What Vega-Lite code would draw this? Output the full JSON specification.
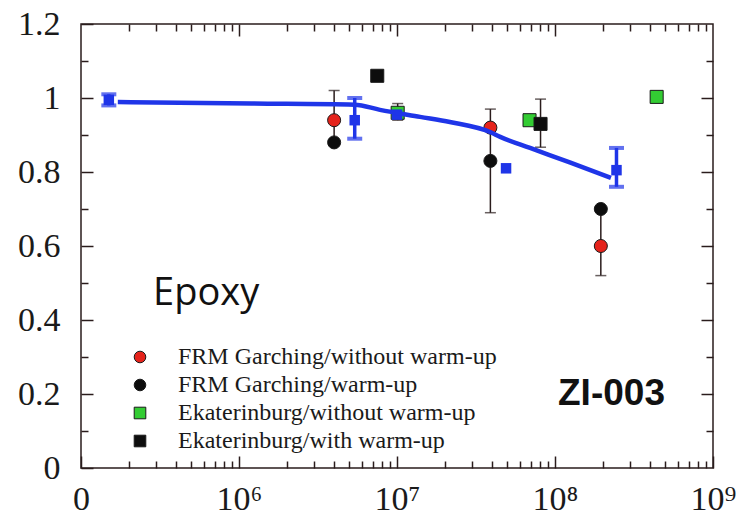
{
  "$schema": "https://vega.github.io/schema/vega-lite/v6.json",
  "width": 632,
  "height": 444,
  "autosize": "none",
  "padding": {"left": 81, "top": 24, "right": 25, "bottom": 51},
  "background": "white",
  "config": {
    "view": {"stroke": "#2a1c1c", "strokeWidth": 1.5},
    "axis": {"domain": false, "grid": false, "tickColor": "#2a1c1c", "tickWidth": 1.5, "labelColor": "#1a1a1a", "labelFont": "Liberation Serif", "title": null, "labelOverlap": false, "labelBound": false, "labelFlush": false}
  },
  "datasets": {
    "curve": [
      {"x": 171000, "y": 0.989},
      {"x": 1200000, "y": 0.985},
      {"x": 5400000, "y": 0.982},
      {"x": 7800000, "y": 0.968},
      {"x": 14000000, "y": 0.949},
      {"x": 21600000, "y": 0.935},
      {"x": 38800000, "y": 0.908},
      {"x": 45000000, "y": 0.895},
      {"x": 69500000, "y": 0.865},
      {"x": 124000000, "y": 0.826},
      {"x": 226000000, "y": 0.784}
    ],
    "blue": [
      {"x": 150000, "y": 0.995, "lo": 0.98, "hi": 1.01},
      {"x": 5400000, "y": 0.94, "lo": 0.89, "hi": 1.0},
      {"x": 10000000, "y": 0.955, "lo": null, "hi": null},
      {"x": 49000000, "y": 0.81, "lo": null, "hi": null},
      {"x": 245000000, "y": 0.805, "lo": 0.76, "hi": 0.865}
    ],
    "pts": [
      {"series": "FRM Garching/without warm-up", "x": 4000000, "y": 0.94, "lo": 0.88, "hi": 1.02},
      {"series": "FRM Garching/without warm-up", "x": 39000000, "y": 0.92, "lo": null, "hi": null},
      {"series": "FRM Garching/without warm-up", "x": 195000000, "y": 0.6, "lo": 0.52, "hi": 0.7},
      {"series": "FRM Garching/warm-up", "x": 4000000, "y": 0.88, "lo": null, "hi": null},
      {"series": "FRM Garching/warm-up", "x": 39000000, "y": 0.83, "lo": 0.69, "hi": 0.97},
      {"series": "FRM Garching/warm-up", "x": 195000000, "y": 0.7, "lo": null, "hi": null},
      {"series": "Ekaterinburg/without warm-up", "x": 10100000, "y": 0.96, "lo": 0.94, "hi": 0.985},
      {"series": "Ekaterinburg/without warm-up", "x": 69000000, "y": 0.94, "lo": null, "hi": null},
      {"series": "Ekaterinburg/without warm-up", "x": 440000000, "y": 1.003, "lo": null, "hi": null},
      {"series": "Ekaterinburg/with warm-up", "x": 7500000, "y": 1.06, "lo": null, "hi": null},
      {"series": "Ekaterinburg/with warm-up", "x": 81000000, "y": 0.93, "lo": 0.867, "hi": 0.997}
    ]
  },
  "layer": [
    {
      "data": {"name": "pts"},
      "transform": [{"filter": "datum.lo != null"}],
      "mark": {"type": "rule", "color": "#2a1c1c", "strokeWidth": 1.5},
      "encoding": {
        "x": {"field": "x", "type": "quantitative", "scale": {"type": "log", "domain": [100000, 1000000000], "nice": false},
          "axis": {
            "orient": "bottom",
            "values": [100000, 200000, 300000, 400000, 500000, 600000, 700000, 800000, 900000, 1000000, 2000000, 3000000, 4000000, 5000000, 6000000, 7000000, 8000000, 9000000, 10000000, 20000000, 30000000, 40000000, 50000000, 60000000, 70000000, 80000000, 90000000, 100000000, 200000000, 300000000, 400000000, 500000000, 600000000, 700000000, 800000000, 900000000, 1000000000],
            "labelExpr": "datum.value < 150000 ? '0' : (abs(log(datum.value)/LN10 - round(log(datum.value)/LN10)) < 0.001 ? '10' + ['','','','','','','⁶','⁷','⁸','⁹'][round(log(datum.value)/LN10)] : '')",
            "tickSize": {"condition": {"test": "abs(log(datum.value)/LN10 - round(log(datum.value)/LN10)) < 0.001", "value": -12}, "value": -7},
            "labelFontSize": 34,
            "labelPadding": 26
          }},
        "y": {"field": "lo", "type": "quantitative", "scale": {"domain": [0, 1.2], "nice": false, "zero": false},
          "axis": {
            "orient": "left",
            "values": [0, 0.1, 0.2, 0.3, 0.4, 0.5, 0.6, 0.7, 0.8, 0.9, 1, 1.1, 1.2],
            "labelExpr": "round(datum.value*10)%2==0 ? format(datum.value,'~g') : ''",
            "tickSize": {"condition": {"test": "round(datum.value*10)%2==0", "value": -12}, "value": -7},
            "labelFontSize": 34,
            "labelPadding": 33
          }},
        "y2": {"field": "hi"}
      }
    },
    {
      "data": {"name": "pts"},
      "transform": [{"filter": "datum.lo != null"}],
      "mark": {"type": "tick", "orient": "horizontal", "color": "#2a1c1c", "thickness": 1.5, "size": 11},
      "encoding": {
        "x": {"field": "x", "type": "quantitative", "axis": null},
        "y": {"field": "hi", "type": "quantitative", "axis": null}
      }
    },
    {
      "data": {"name": "pts"},
      "transform": [{"filter": "datum.lo != null"}],
      "mark": {"type": "tick", "orient": "horizontal", "color": "#2a1c1c", "thickness": 1.5, "size": 11},
      "encoding": {
        "x": {"field": "x", "type": "quantitative", "axis": null},
        "y": {"field": "lo", "type": "quantitative", "axis": null}
      }
    },
    {
      "data": {"name": "pts"},
      "mark": {"type": "point", "filled": true, "stroke": "#1a1a1a", "strokeWidth": 1, "opacity": 1, "size": 170},
      "encoding": {
        "x": {"field": "x", "type": "quantitative", "axis": null},
        "y": {"field": "y", "type": "quantitative", "axis": null},
        "color": {"field": "series", "type": "nominal",
          "scale": {"domain": ["FRM Garching/without warm-up", "FRM Garching/warm-up", "Ekaterinburg/without warm-up", "Ekaterinburg/with warm-up"], "range": ["#e5231b", "#0d0d0d", "#33cc33", "#0d0d0d"]},
          "legend": {"orient": "none", "legendX": 47, "legendY": 321, "title": null, "labelFont": "Liberation Serif", "labelFontSize": 24, "labelColor": "#1a1a1a", "labelOffset": 26, "labelLimit": 0, "symbolSize": 135, "rowPadding": 4, "padding": 0, "symbolStrokeColor": "#1a1a1a", "symbolStrokeWidth": 1}},
        "shape": {"field": "series", "type": "nominal",
          "scale": {"domain": ["FRM Garching/without warm-up", "FRM Garching/warm-up", "Ekaterinburg/without warm-up", "Ekaterinburg/with warm-up"], "range": ["circle", "circle", "square", "square"]}}
      }
    },
    {
      "data": {"name": "blue"},
      "transform": [{"filter": "datum.lo != null"}],
      "mark": {"type": "rule", "color": "#1f35e8", "strokeWidth": 3.5},
      "encoding": {
        "x": {"field": "x", "type": "quantitative", "axis": null},
        "y": {"field": "lo", "type": "quantitative", "axis": null},
        "y2": {"field": "hi"}
      }
    },
    {
      "data": {"name": "blue"},
      "transform": [{"filter": "datum.lo != null"}],
      "mark": {"type": "tick", "orient": "horizontal", "color": "#1f35e8", "thickness": 4, "size": 15},
      "encoding": {
        "x": {"field": "x", "type": "quantitative", "axis": null},
        "y": {"field": "hi", "type": "quantitative", "axis": null}
      }
    },
    {
      "data": {"name": "blue"},
      "transform": [{"filter": "datum.lo != null"}],
      "mark": {"type": "tick", "orient": "horizontal", "color": "#1f35e8", "thickness": 4, "size": 15},
      "encoding": {
        "x": {"field": "x", "type": "quantitative", "axis": null},
        "y": {"field": "lo", "type": "quantitative", "axis": null}
      }
    },
    {
      "data": {"name": "blue"},
      "mark": {"type": "square", "color": "#1f35e8", "opacity": 1, "size": 110},
      "encoding": {
        "x": {"field": "x", "type": "quantitative", "axis": null},
        "y": {"field": "y", "type": "quantitative", "axis": null}
      }
    },
    {
      "data": {"name": "curve"},
      "mark": {"type": "line", "color": "#1f35e8", "strokeWidth": 4.5, "interpolate": "monotone"},
      "encoding": {
        "x": {"field": "x", "type": "quantitative", "axis": null},
        "y": {"field": "y", "type": "quantitative", "axis": null}
      }
    },
    {
      "data": {"values": [{}]},
      "mark": {"type": "text", "text": "Epoxy", "font": "Open Sans", "fontSize": 38, "align": "left", "baseline": "alphabetic", "color": "#111111"},
      "encoding": {
        "x": {"datum": 286000, "type": "quantitative", "axis": null},
        "y": {"datum": 0.44, "type": "quantitative", "axis": null}
      }
    },
    {
      "data": {"values": [{}]},
      "mark": {"type": "text", "text": "ZI-003", "font": "Liberation Sans", "fontWeight": "bold", "fontSize": 37, "align": "left", "baseline": "alphabetic", "color": "#111111"},
      "encoding": {
        "x": {"datum": 104500000, "type": "quantitative", "axis": null},
        "y": {"datum": 0.17, "type": "quantitative", "axis": null}
      }
    },
    {
      "data": {"name": "curve"},
      "mark": {"type": "point", "opacity": 0},
      "encoding": {
        "x": {"field": "x", "type": "quantitative",
          "axis": {
            "orient": "top", "labels": false,
            "values": [200000, 300000, 400000, 500000, 600000, 700000, 800000, 900000, 1000000, 2000000, 3000000, 4000000, 5000000, 6000000, 7000000, 8000000, 9000000, 10000000, 20000000, 30000000, 40000000, 50000000, 60000000, 70000000, 80000000, 90000000, 100000000, 200000000, 300000000, 400000000, 500000000, 600000000, 700000000, 800000000, 900000000],
            "tickSize": {"condition": {"test": "abs(log(datum.value)/LN10 - round(log(datum.value)/LN10)) < 0.001", "value": -12}, "value": -7}
          }},
        "y": {"field": "y", "type": "quantitative",
          "axis": {
            "orient": "right", "labels": false,
            "values": [0.1, 0.2, 0.3, 0.4, 0.5, 0.6, 0.7, 0.8, 0.9, 1, 1.1],
            "tickSize": {"condition": {"test": "round(datum.value*10)%2==0", "value": -12}, "value": -7}
          }}
      }
    }
  ],
  "resolve": {"axis": {"x": "independent", "y": "independent"}}
}
